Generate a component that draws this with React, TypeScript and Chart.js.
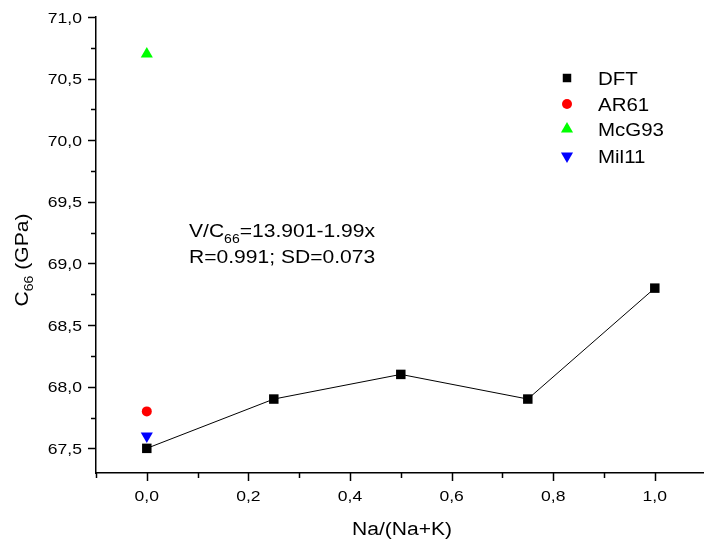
import React, { useEffect, useRef } from "react";
import { Chart, registerables } from "chart.js";
import { drawPoint } from "chart.js/helpers";

Chart.register(...registerables);

const xValues = [0, 0.25, 0.5, 0.75, 1.0];
const dftValues = [67.5, 67.9, 68.1, 67.9, 68.8];
const ar61 = [{ x: 0, y: 67.8 }];
const mcg93 = [{ x: 0, y: 70.7 }];
const mil11 = [{ x: 0, y: 67.6 }];

const xMajorTicks = [0, 0.2, 0.4, 0.6, 0.8, 1.0];
const xMinorTicks = [-0.1, 0.1, 0.3, 0.5, 0.7, 0.9];
const yMajorTicks = [67.5, 68.0, 68.5, 69.0, 69.5, 70.0, 70.5, 71.0];
const yMinorTicks = [67.75, 68.25, 68.75, 69.25, 69.75, 70.25, 70.75];

const FONT = "'Liberation Sans', Arial, sans-serif";
const STRETCH = 1.17;

const fmt = (v: number) => v.toFixed(1).replace(".", ",");

type Part = { t: string; size: number; dy: number };

function partsWidth(ctx: any, parts: Part[]) {
  let w = 0;
  parts.forEach((p) => {
    ctx.font = `${p.size}px ${FONT}`;
    w += ctx.measureText(p.t).width;
  });
  return w * STRETCH;
}

function drawParts(ctx: any, parts: Part[], x: number, y: number, align: "left" | "center" | "right") {
  const w = partsWidth(ctx, parts);
  let sx = x;
  if (align === "center") sx = x - w / 2;
  if (align === "right") sx = x - w;
  ctx.save();
  ctx.translate(sx, y);
  ctx.scale(STRETCH, 1);
  ctx.textAlign = "left";
  ctx.textBaseline = "alphabetic";
  let cx = 0;
  parts.forEach((p) => {
    ctx.font = `${p.size}px ${FONT}`;
    ctx.fillText(p.t, cx, p.dy);
    cx += ctx.measureText(p.t).width;
  });
  ctx.restore();
}

const decorPlugin = {
  id: "decor",
  afterDraw(chart: any) {
    const ctx = chart.ctx;
    const xs = chart.scales.x;
    const ys = chart.scales.y;
    const area = chart.chartArea;
    ctx.save();
    ctx.strokeStyle = "#000";
    ctx.lineWidth = 1.5;
    const drawX = (vals: number[], len: number) => {
      vals.forEach((v) => {
        const px = Math.round(xs.getPixelForValue(v)) + 0.5;
        ctx.beginPath();
        ctx.moveTo(px, area.bottom);
        ctx.lineTo(px, area.bottom + len);
        ctx.stroke();
      });
    };
    drawX(xMajorTicks, 8);
    drawX(xMinorTicks, 5);
    const drawY = (vals: number[], len: number) => {
      vals.forEach((v) => {
        const py = Math.round(ys.getPixelForValue(v)) + 0.5;
        ctx.beginPath();
        ctx.moveTo(area.left, py);
        ctx.lineTo(area.left - len, py);
        ctx.stroke();
      });
    };
    drawY(yMajorTicks, 8);
    drawY(yMinorTicks, 5);

    ctx.fillStyle = "#000";
    xMajorTicks.forEach((v) => {
      drawParts(ctx, [{ t: fmt(v), size: 15, dy: 0 }], xs.getPixelForValue(v), 501, "center");
    });
    yMajorTicks.forEach((v) => {
      drawParts(ctx, [{ t: fmt(v), size: 15, dy: 0 }], 82, ys.getPixelForValue(v) + 5.5, "right");
    });

    drawParts(ctx, [{ t: "Na/(Na+K)", size: 18, dy: 0 }], 402, 535, "center");

    ctx.save();
    ctx.translate(28, 260);
    ctx.rotate(-Math.PI / 2);
    drawParts(
      ctx,
      [
        { t: "C", size: 18, dy: 0 },
        { t: "66", size: 12, dy: 5 },
        { t: " (GPa)", size: 18, dy: 0 },
      ],
      0,
      0,
      "center"
    );
    ctx.restore();

    drawParts(
      ctx,
      [
        { t: "V/C", size: 18, dy: 0 },
        { t: "66", size: 12, dy: 6 },
        { t: "=13.901-1.99x", size: 18, dy: 0 },
      ],
      189,
      237,
      "left"
    );
    drawParts(ctx, [{ t: "R=0.991; SD=0.073", size: 18, dy: 0 }], 189, 263, "left");

    const items = chart.data.datasets;
    const rowY = [78, 104, 129, 156];
    items.forEach((ds: any, i: number) => {
      const y = rowY[i];
      ctx.fillStyle = ds.pointBackgroundColor;
      ctx.strokeStyle = ds.pointBackgroundColor;
      ctx.lineWidth = 0;
      drawPoint(
        ctx,
        {
          pointStyle: ds.pointStyle,
          radius: ds.legendRadius,
          rotation: ds.rotation || 0,
          borderWidth: 0,
        } as any,
        567,
        y
      );
      ctx.fillStyle = "#000";
      drawParts(ctx, [{ t: ds.label, size: 17.5, dy: 0 }], 598, y + 7, "left");
    });
    ctx.restore();
  },
};

export default function App() {
  const ref = useRef<HTMLCanvasElement | null>(null);
  useEffect(() => {
    document.body.style.margin = "0";
    const canvas = ref.current!;
    const zeroPad = (s: any) => {
      s.paddingLeft = 0;
      s.paddingRight = 0;
      s.paddingTop = 0;
      s.paddingBottom = 0;
    };
    const chart = new Chart(canvas, {
      type: "scatter",
      data: {
        datasets: [
          {
            label: "DFT",
            data: xValues.map((x, i) => ({ x, y: dftValues[i] })),
            showLine: true,
            borderColor: "#000",
            borderWidth: 1,
            pointStyle: "rect",
            pointRadius: 6.7,
            pointBackgroundColor: "#000",
            pointBorderColor: "#000",
            pointBorderWidth: 0,
            legendRadius: 6,
          } as any,
          {
            label: "AR61",
            data: ar61,
            pointStyle: "circle",
            pointRadius: 5,
            pointBackgroundColor: "#ff0000",
            pointBorderWidth: 0,
            legendRadius: 5,
          } as any,
          {
            label: "McG93",
            data: mcg93,
            pointStyle: "triangle",
            pointRadius: 7,
            pointBackgroundColor: "#00ff00",
            pointBorderWidth: 0,
            legendRadius: 7,
          } as any,
          {
            label: "Mil11",
            data: mil11,
            pointStyle: "triangle",
            rotation: 180,
            pointRotation: 180,
            pointRadius: 7,
            pointBackgroundColor: "#0000ff",
            pointBorderWidth: 0,
            legendRadius: 7,
          } as any,
        ],
      },
      options: {
        animation: false,
        responsive: false,
        devicePixelRatio: 1,
        layout: { autoPadding: false, padding: { top: 17, left: 0, right: 0, bottom: 0 } },
        plugins: { legend: { display: false }, tooltip: { enabled: false } },
        scales: {
          x: {
            type: "linear",
            min: -0.1,
            max: -0.1 + 608 / 508,
            grid: { display: false, drawTicks: false },
            border: { display: true, color: "#000", width: 1.5 },
            afterBuildTicks: (s: any) => {
              s.ticks = xMajorTicks.map((v) => ({ value: v }));
            },
            afterFit: (s: any) => {
              s.height = 73;
              zeroPad(s);
            },
            ticks: { display: false },
          },
          y: {
            type: "linear",
            min: 67.3,
            max: 71.0,
            grid: { display: false, drawTicks: false },
            border: { display: true, color: "#000", width: 1.5 },
            afterBuildTicks: (s: any) => {
              s.ticks = yMajorTicks.map((v) => ({ value: v }));
            },
            afterFit: (s: any) => {
              s.width = 96;
              zeroPad(s);
            },
            ticks: { display: false },
          },
        },
      },
      plugins: [decorPlugin],
    });
    return () => chart.destroy();
  }, []);
  return (
    <div style={{ width: 704, height: 546 }}>
      <canvas ref={ref} width={704} height={546} style={{ display: "block" }} />
    </div>
  );
}
